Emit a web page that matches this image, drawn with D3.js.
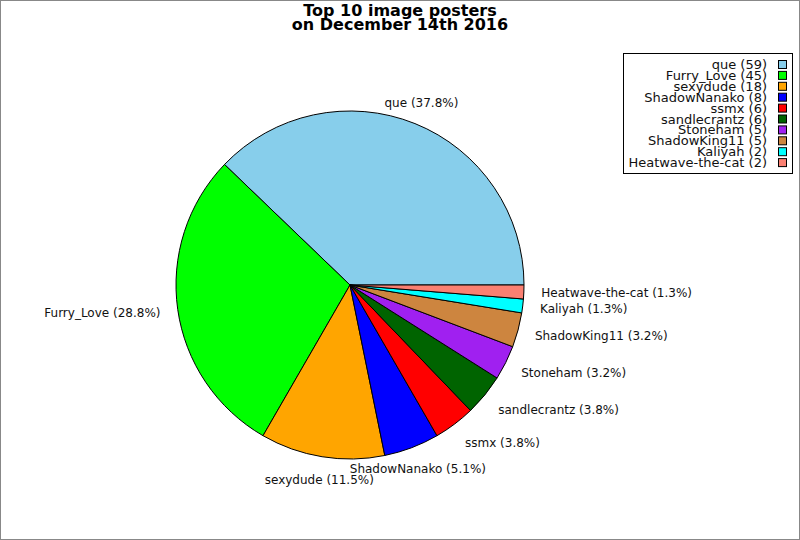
<!DOCTYPE html>
<html>
<head>
<meta charset="utf-8">
<script src="https://cdn.jsdelivr.net/npm/d3@7"></script>
<style>
  body { margin: 0; background: #fff; }
  svg { display: block; font-family: "DejaVu Sans", sans-serif; }
</style>
</head>
<body>
<div class="pie-plot"></div>
<script>
const width = 800;
const height = 540;

const names = ['que', 'Furry_Love', 'sexydude', 'ShadowNanako', 'ssmx',
    'sandlecrantz', 'Stoneham', 'ShadowKing11', 'Kaliyah', 'Heatwave-the-cat'];
const counts = [59, 45, 18, 8, 6, 6, 5, 5, 2, 2];
const colors = ['#87ceeb', '#00ff00', '#ffa500', '#0000ff', '#ff0000',
    '#006400', '#a020f0', '#cd853f', '#00ffff', '#fa8072'];
const titleLines = ['Top 10 image posters', 'on December 14th 2016'];

const cx = 350, cy = 285, radius = 174;
const total = d3.sum(counts);

const svg = d3.select('.pie-plot')
    .append('svg')
    .attr('width', width)
    .attr('height', height)

svg.append('rect')
    .attr('x', 0.5).attr('y', 0.5)
    .attr('width', width - 1).attr('height', height - 1)
    .attr('fill', '#fff')
    .attr('stroke', '#888')

// title
svg.append('g')
    .selectAll('text')
    .data(titleLines)
    .enter()
    .append('text')
    .attr('x', 400)
    .attr('y', (d, i) => 16 + i * 14)
    .attr('text-anchor', 'middle')
    .attr('font-size', 16)
    .attr('font-weight', 'bold')
    .text(d => d)

const data = names.map((name, i) => ({ name, value: counts[i], color: colors[i] }))

// start at 3 o'clock, go counterclockwise
const pie = d3.pie()
    .sort(null)
    .value(d => d.value)
    .startAngle(Math.PI / 2)
    .endAngle(Math.PI / 2 - 2 * Math.PI)

const arc = d3.arc().innerRadius(0).outerRadius(radius)
const slices = pie(data)

const g = svg.append('g').attr('transform', `translate(${cx},${cy})`)

g.selectAll('path')
    .data(slices)
    .enter()
    .append('path')
    .attr('d', arc)
    .attr('fill', d => d.data.color)
    .attr('stroke', '#000')
    .attr('stroke-width', 1)

const labelR = radius * 1.1

g.selectAll('text')
    .data(slices)
    .enter()
    .append('text')
    .each(function (d) {
        const a = (d.startAngle + d.endAngle) / 2
        const c = Math.sin(a)   // horizontal component
        const s = Math.cos(a)   // vertical component (up positive)
        const anchor = Math.abs(c) < 0.5 ? 'middle' : (c > 0 ? 'start' : 'end')
        d3.select(this)
            .attr('x', labelR * c)
            .attr('y', -labelR * s - s * 5.5)
            .attr('dy', '0.35em')
            .attr('text-anchor', anchor)
    })
    .attr('font-size', 12)
    .attr('fill', '#111')
    .text(d => `${d.data.name} (${(d.data.value / total * 100).toFixed(1)}%)`)

// legend
const legend = svg.append('g')

legend.append('rect')
    .attr('x', 623.5).attr('y', 53.5)
    .attr('width', 169).attr('height', 120)
    .attr('fill', '#fff')
    .attr('stroke', '#000')

const items = legend.selectAll('g.item')
    .data(data)
    .enter()
    .append('g')
    .attr('class', 'item')
    .attr('transform', (d, i) => `translate(0,${60 + i * 10.9})`)

items.append('rect')
    .attr('x', 778.5).attr('y', 0.5)
    .attr('width', 8).attr('height', 8)
    .attr('fill', d => d.color)
    .attr('stroke', '#000')

items.append('text')
    .attr('x', 767)
    .attr('y', 4.5)
    .attr('dy', '0.35em')
    .attr('text-anchor', 'end')
    .attr('font-size', 13)
    .attr('fill', '#111')
    .text(d => `${d.name} (${d.value})`)
</script>
</body>
</html>
